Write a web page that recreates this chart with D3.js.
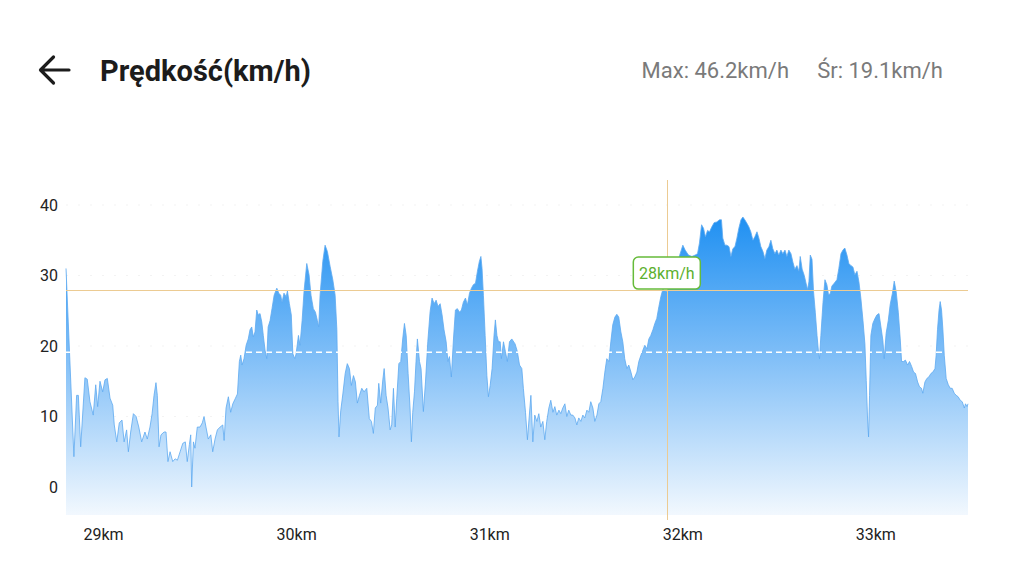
<!DOCTYPE html>
<html>
<head>
<meta charset="utf-8">
<script src="https://cdn.jsdelivr.net/npm/d3@7"></script>
<style>
  html, body { margin: 0; padding: 0; background: #fff; }
  svg { display: block; font-family: Roboto, "Noto Sans", sans-serif; }
</style>
</head>
<body>
<svg id="chart" width="1024" height="576"></svg>
<script>
// distance along the ride (km) and speed (km/h)
const distKm = [
  28.808,28.849,28.863,28.872,28.884,28.906,28.918,28.932,28.949,28.962,28.972,28.984,28.998,29.010,29.022,29.036,29.050,29.058,29.071,29.084,
  29.098,29.109,29.122,29.131,29.143,29.157,29.171,29.185,29.200,29.217,29.229,29.243,29.254,29.264,29.274,29.281,29.290,29.300,29.316,29.326,
  29.336,29.347,29.361,29.373,29.385,29.399,29.413,29.426,29.436,29.447,29.454,29.459,29.468,29.476,29.488,29.502,29.514,29.523,29.533,29.545,
  29.558,29.568,29.580,29.592,29.606,29.620,29.627,29.637,29.649,29.661,29.672,29.684,29.696,29.706,29.713,29.720,29.730,29.741,29.752,29.761,
  29.770,29.778,29.787,29.796,29.804,29.813,29.822,29.830,29.839,29.848,29.855,29.865,29.875,29.886,29.900,29.910,29.920,29.927,29.937,29.948,
  29.955,29.965,29.975,29.983,29.993,30.000,30.012,30.020,30.031,30.041,30.055,30.067,30.077,30.089,30.100,30.110,30.117,30.124,30.138,30.150,
  30.162,30.176,30.190,30.202,30.211,30.217,30.222,30.231,30.242,30.254,30.265,30.276,30.286,30.297,30.307,30.317,30.328,30.340,30.352,30.366,
  30.379,30.390,30.400,30.410,30.421,30.428,30.438,30.449,30.456,30.466,30.476,30.487,30.495,30.504,30.513,30.521,30.532,30.542,30.552,30.561,
  30.570,30.580,30.590,30.597,30.604,30.613,30.621,30.628,30.639,30.647,30.659,30.670,30.682,30.694,30.704,30.715,30.725,30.735,30.746,30.756,
  30.766,30.777,30.786,30.794,30.804,30.815,30.825,30.835,30.846,30.856,30.866,30.877,30.887,30.898,30.908,30.918,30.929,30.939,30.949,30.957,
  30.963,30.970,30.979,30.988,30.996,31.005,31.015,31.025,31.032,31.040,31.048,31.057,31.063,31.074,31.084,31.094,31.105,31.117,31.134,31.146,
  31.157,31.169,31.177,31.188,31.198,31.208,31.216,31.226,31.236,31.247,31.257,31.267,31.278,31.288,31.298,31.309,31.319,31.330,31.340,31.350,
  31.361,31.371,31.381,31.392,31.402,31.412,31.423,31.433,31.444,31.454,31.464,31.475,31.485,31.495,31.506,31.516,31.526,31.537,31.547,31.558,
  31.568,31.578,31.589,31.599,31.609,31.620,31.630,31.640,31.651,31.661,31.671,31.682,31.692,31.702,31.713,31.723,31.734,31.744,31.754,31.765,
  31.775,31.786,31.796,31.806,31.817,31.827,31.837,31.848,31.858,31.868,31.879,31.889,31.899,31.920,31.934,31.955,31.972,31.989,32.003,32.015,
  32.032,32.050,32.067,32.079,32.089,32.100,32.110,32.120,32.131,32.141,32.153,32.165,32.179,32.193,32.203,32.210,32.221,32.231,32.242,32.252,
  32.262,32.273,32.283,32.293,32.304,32.314,32.324,32.335,32.345,32.355,32.366,32.376,32.387,32.397,32.407,32.418,32.428,32.438,32.449,32.459,
  32.469,32.480,32.490,32.500,32.511,32.521,32.532,32.542,32.552,32.563,32.573,32.583,32.594,32.604,32.611,32.621,32.632,32.642,32.649,32.656,
  32.663,32.672,32.680,32.689,32.698,32.706,32.711,32.718,32.729,32.739,32.749,32.758,32.767,32.775,32.787,32.801,32.811,32.822,32.832,32.842,
  32.853,32.863,32.874,32.884,32.894,32.905,32.915,32.925,32.936,32.946,32.953,32.960,32.965,32.970,32.977,32.987,32.998,33.008,33.019,33.029,
  33.039,33.046,33.056,33.067,33.077,33.088,33.098,33.108,33.119,33.129,33.136,33.146,33.156,33.167,33.177,33.188,33.198,33.208,33.219,33.229,
  33.239,33.246,33.257,33.267,33.277,33.288,33.298,33.309,33.315,33.322,33.330,33.336,33.343,33.350,33.357,33.367,33.378,33.388,33.398,33.409,
  33.419,33.429,33.440,33.450,33.461,33.467,33.475,33.480
];
const speedKmh = [
  31.0,4.3,13.0,13.0,5.7,15.5,15.3,12.1,10.2,14.5,11.4,15.0,13.5,15.2,15.4,12.6,11.6,8.8,6.4,9.1,
  9.5,6.4,8.1,5.0,7.8,10.4,10.0,8.5,6.4,7.8,6.8,8.5,10.4,13.0,14.8,13.0,5.7,7.4,7.8,7.8,
  3.6,5.0,3.6,4.0,3.8,5.0,6.2,6.4,3.6,6.0,7.4,0.0,6.4,5.5,8.5,8.5,9.1,10.0,8.5,6.8,
  7.4,5.0,6.8,8.1,8.5,8.8,6.6,11.2,12.8,10.6,11.8,12.5,13.2,17.8,18.7,17.3,18.2,20.1,21.0,22.3,
  22.7,21.3,22.0,25.1,24.4,24.6,23.4,21.5,19.4,18.2,22.7,23.6,25.3,27.2,28.2,27.5,27.2,26.2,27.5,27.0,
  27.8,26.0,24.4,18.9,18.2,18.9,21.5,20.1,23.6,27.8,31.7,30.1,27.2,25.3,24.8,23.6,22.7,27.2,32.0,34.3,
  33.4,31.3,29.4,27.2,22.3,12.1,7.1,10.8,13.2,16.1,17.5,16.8,14.4,15.8,14.9,11.9,13.0,14.0,13.5,14.0,
  9.7,9.3,7.6,11.2,11.6,14.7,11.9,15.2,16.8,13.0,11.2,8.1,8.8,14.0,8.5,12.5,17.5,17.8,21.0,23.2,
  21.5,16.1,11.2,6.4,10.6,13.5,17.8,21.0,17.8,16.8,10.7,14.9,20.6,24.9,26.8,26.0,26.5,25.6,26.0,24.4,
  22.3,20.6,17.8,18.5,15.6,21.0,25.1,25.3,24.8,25.1,26.2,26.8,25.8,27.5,28.2,28.7,28.9,30.6,32.0,32.7,
  31.0,27.2,21.5,15.8,12.8,14.4,16.8,21.5,23.7,21.5,20.6,20.6,18.2,20.6,19.2,17.8,20.6,21.0,20.3,19.2,
  17.3,16.8,14.0,10.6,6.7,10.2,13.0,6.4,10.2,9.3,10.4,8.5,9.3,6.7,9.3,11.2,12.3,10.6,11.4,10.2,
  10.9,10.4,11.2,11.8,10.0,10.9,10.2,10.2,9.8,8.8,9.8,9.3,10.2,9.8,10.9,10.6,12.1,11.2,9.3,10.2,
  11.8,12.1,14.0,16.3,18.2,17.8,20.6,23.0,24.1,24.5,24.1,22.0,20.6,18.2,16.8,17.3,16.3,15.2,15.6,16.3,
  17.8,18.7,19.4,20.1,19.6,21.0,21.5,22.3,23.2,23.9,25.6,27.0,28.0,27.7,29.0,30.5,31.5,33.1,34.3,33.6,
  32.9,32.7,32.9,33.1,34.6,37.2,36.7,35.5,36.4,36.2,36.9,37.5,37.6,37.9,37.9,35.3,34.3,34.3,34.1,32.7,
  33.8,34.1,35.3,36.7,37.9,38.3,37.9,37.4,36.9,36.2,35.0,35.5,36.2,35.3,34.1,33.4,32.4,33.6,34.1,35.0,
  33.8,33.1,33.6,32.9,33.6,33.1,33.6,32.7,33.6,33.1,31.9,30.9,31.4,30.6,32.7,30.9,30.0,28.8,28.0,29.1,
  32.9,32.3,27.7,24.8,21.5,19.0,18.2,21.5,26.2,29.4,28.7,27.2,27.5,28.5,28.9,29.4,31.0,33.1,33.6,33.9,
  32.9,31.7,31.4,31.2,30.1,30.6,29.1,26.8,23.6,20.3,15.1,9.5,7.1,13.0,21.5,23.2,23.9,24.4,24.6,22.7,
  20.8,18.2,21.8,23.6,25.9,27.4,29.2,27.7,24.8,21.0,17.8,17.8,18.0,17.3,17.8,17.1,16.3,16.1,14.9,14.2,
  14.0,13.3,14.9,15.4,15.6,16.1,16.3,16.8,18.7,22.3,25.1,26.3,25.1,22.3,18.7,15.4,14.5,14.0,14.0,13.3,
  13.0,12.8,12.3,12.1,11.2,11.8,11.4,11.8
];

const yTicks = [0, 10, 20, 30, 40];
const xTicks = [29, 30, 31, 32, 33];

const title = 'Prędkość(km/h)';
const maxLabel = 'Max: 46.2km/h';
const avgLabel = 'Śr: 19.1km/h';
const avgSpeed = 19.1;

// selected point (crosshair)
const cursorKm = 31.92;
const cursorSpeed = 28;

const data = distKm.map((k, i) => ({km: k, v: speedKmh[i]}));

const svg = d3.select('#chart');

const plotLeft = 66, plotRight = 968, plotTop = 180, plotBottom = 515;

const x = d3.scaleLinear()
	.domain([distKm[0], distKm[distKm.length - 1]])
	.range([plotLeft, plotRight]);

const y = d3.scaleLinear()
	.domain([0, 40])
	.range([487, 205]);

const yBase = y.invert(plotBottom);

// header
svg.append('path')
	.attr('d', 'M41,70 L69,70 M53.5,57 L40.5,70 L53.5,83')
	.attr('fill', 'none')
	.attr('stroke', '#1c1c1c')
	.attr('stroke-width', 3.2)
	.attr('stroke-linecap', 'round')
	.attr('stroke-linejoin', 'round');

svg.append('text')
	.attr('x', 100)
	.attr('y', 81)
	.attr('font-size', 29)
	.attr('font-weight', 700)
	.attr('fill', '#1c1c1c')
	.text(title);

svg.append('text')
	.attr('x', 943)
	.attr('y', 78)
	.attr('text-anchor', 'end')
	.attr('font-size', 22)
	.attr('fill', '#7a7a7a')
	.text(avgLabel);

svg.append('text')
	.attr('x', 789)
	.attr('y', 78)
	.attr('text-anchor', 'end')
	.attr('font-size', 22)
	.attr('fill', '#7a7a7a')
	.text(maxLabel);

// gradient for the area
const defs = svg.append('defs');
const grad = defs.append('linearGradient')
	.attr('id', 'speedFill')
	.attr('gradientUnits', 'userSpaceOnUse')
	.attr('x1', 0).attr('x2', 0)
	.attr('y1', y(38)).attr('y2', plotBottom);
grad.append('stop').attr('offset', '0%').attr('stop-color', '#2191f2');
grad.append('stop').attr('offset', '45%').attr('stop-color', '#7dbdf7');
grad.append('stop').attr('offset', '100%').attr('stop-color', '#f2f8fe');

// faint grid
svg.append('g')
	.selectAll('line')
	.data(yTicks)
	.join('line')
	.attr('x1', plotLeft)
	.attr('x2', plotRight)
	.attr('y1', d => y(d))
	.attr('y2', d => y(d))
	.attr('stroke', '#f3f3f3')
	.attr('stroke-width', 1)
	.attr('stroke-dasharray', '2,10');

// area + line
const area = d3.area()
	.x(d => x(d.km))
	.y0(y(yBase))
	.y1(d => y(d.v));

const line = d3.line()
	.x(d => x(d.km))
	.y(d => y(d.v));

svg.append('path')
	.datum(data)
	.attr('d', area)
	.attr('fill', 'url(#speedFill)');

svg.append('path')
	.datum(data)
	.attr('d', line)
	.attr('fill', 'none')
	.attr('stroke', '#5eaaf0')
	.attr('stroke-width', 0.8);

// average line
svg.append('line')
	.attr('x1', plotLeft)
	.attr('x2', plotRight)
	.attr('y1', y(avgSpeed))
	.attr('y2', y(avgSpeed))
	.attr('stroke', '#ffffff')
	.attr('stroke-width', 1.5)
	.attr('stroke-dasharray', '6,4');

// crosshair
const cy = Math.round(y(cursorSpeed)) + 0.5;
const cx = Math.round(x(cursorKm)) + 0.5;

svg.append('line')
	.attr('x1', plotLeft)
	.attr('x2', plotRight)
	.attr('y1', cy)
	.attr('y2', cy)
	.attr('stroke', '#eccb92')
	.attr('stroke-width', 1);

svg.append('line')
	.attr('x1', cx)
	.attr('x2', cx)
	.attr('y1', plotTop)
	.attr('y2', 520)
	.attr('stroke', '#eccb92')
	.attr('stroke-width', 1);

const tip = svg.append('g')
	.attr('transform', `translate(${x(cursorKm)},${y(cursorSpeed) - 16.5})`);

tip.append('rect')
	.attr('x', -33.5)
	.attr('y', -16)
	.attr('width', 67)
	.attr('height', 32)
	.attr('rx', 5)
	.attr('fill', '#fff')
	.attr('stroke', '#66bb3a')
	.attr('stroke-width', 1.5);

tip.append('text')
	.attr('text-anchor', 'middle')
	.attr('dy', '0.36em')
	.attr('font-size', 16)
	.attr('fill', '#5cb02e')
	.text(cursorSpeed + 'km/h');

// axes
const yAxis = d3.axisLeft(y)
	.tickValues(yTicks)
	.tickSize(0)
	.tickPadding(0);

svg.append('g')
	.attr('transform', 'translate(58,0)')
	.call(yAxis)
	.call(g => g.select('.domain').remove())
	.selectAll('text')
	.attr('font-size', 16)
	.attr('font-family', 'Roboto, sans-serif')
	.attr('fill', '#222');

const xAxis = d3.axisBottom(x)
	.tickValues(xTicks)
	.tickFormat(d => d + 'km')
	.tickSize(0)
	.tickPadding(0);

svg.append('g')
	.attr('transform', 'translate(0,529)')
	.call(xAxis)
	.call(g => g.select('.domain').remove())
	.selectAll('text')
	.attr('font-size', 16)
	.attr('font-family', 'Roboto, sans-serif')
	.attr('fill', '#222');
</script>
</body>
</html>
